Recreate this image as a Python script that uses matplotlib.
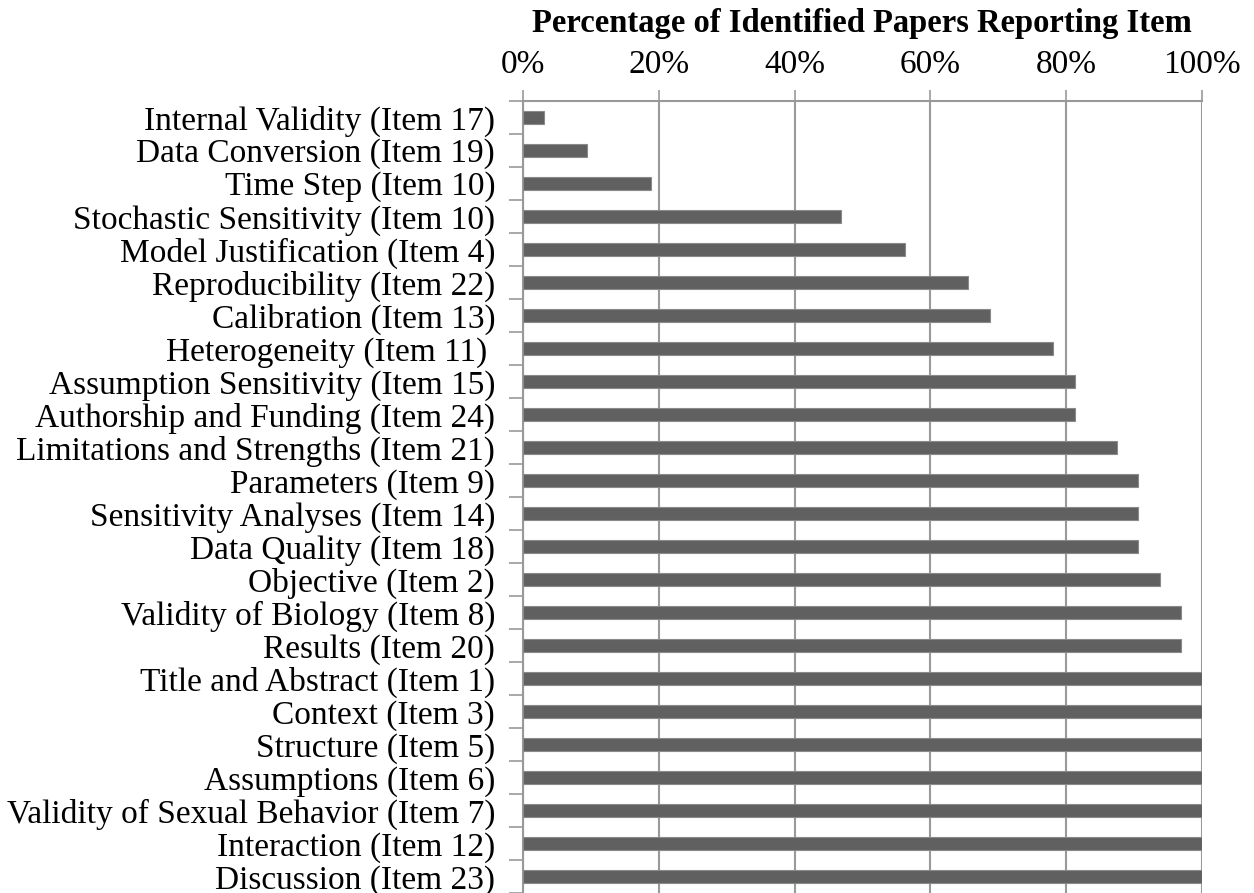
import matplotlib
matplotlib.use("Agg")
import matplotlib.pyplot as plt
from matplotlib.ticker import FixedLocator, PercentFormatter

categories = [
    "Internal Validity (Item 17)",
    "Data Conversion (Item 19)",
    "Time Step (Item 10)",
    "Stochastic Sensitivity (Item 10)",
    "Model Justification (Item 4)",
    "Reproducibility (Item 22)",
    "Calibration (Item 13)",
    "Heterogeneity (Item 11) ",
    "Assumption Sensitivity (Item 15)",
    "Authorship and Funding (Item 24)",
    "Limitations and Strengths (Item 21)",
    "Parameters (Item 9)",
    "Sensitivity Analyses (Item 14)",
    "Data Quality (Item 18)",
    "Objective (Item 2)",
    "Validity of Biology (Item 8)",
    "Results (Item 20)",
    "Title and Abstract (Item 1)",
    "Context (Item 3)",
    "Structure (Item 5)",
    "Assumptions (Item 6)",
    "Validity of Sexual Behavior (Item 7)",
    "Interaction (Item 12)",
    "Discussion (Item 23)",
]
values = [3.1, 9.4, 18.8, 46.9, 56.3, 65.6, 68.8, 78.1, 81.3, 81.3, 87.5,
          90.6, 90.6, 90.6, 93.8, 96.9, 96.9, 100, 100, 100, 100, 100, 100, 100]
xticks = [0, 20, 40, 60, 80, 100]
title = "Percentage of Identified Papers Reporting Item"

plt.rcParams['font.family'] = ['Liberation Serif', 'DejaVu Serif']

fig = plt.figure(figsize=(12.54, 8.93), dpi=100)
ax = fig.add_axes([523/1254, 0.0, (1202-523)/1254, 1 - 100/893 - 0.0011])

pos = list(range(len(categories)))
ax.barh(pos, values, height=0.4, color='#606060', edgecolor='#8a8a8a', linewidth=0.8, zorder=3)

ax.set_xlim(0, 100)
ax.set_ylim(len(categories) - 0.5, -0.5)
ax.xaxis.tick_top()
ax.set_xticks(xticks)
ax.xaxis.set_major_formatter(PercentFormatter(decimals=0))
ax.tick_params(axis='x', direction='out', length=8, width=1.2, color='#999999',
               labelsize=24, pad=7)
fig.text(862/1254, 1 - 32/893, title, fontsize=23.5, fontweight='bold',
         ha='center', va='baseline')

ax.set_yticks(pos)
ax.set_yticklabels(categories)
ax.tick_params(axis='y', which='major', length=0, labelsize=24, pad=20)
ax.yaxis.set_minor_locator(FixedLocator([p + 0.5 for p in range(-1, len(categories))]))
ax.tick_params(axis='y', which='minor', direction='out', length=10, width=1.2, color='#999999')

ax.grid(axis='x', color='#999999', linewidth=1.5, zorder=0)
ax.set_axisbelow(True)
for s in ['right', 'bottom']:
    ax.spines[s].set_visible(False)
for s in ['top', 'left']:
    ax.spines[s].set_color('#999999')
    ax.spines[s].set_linewidth(1.5)

fig.savefig("out.png", dpi=100)
